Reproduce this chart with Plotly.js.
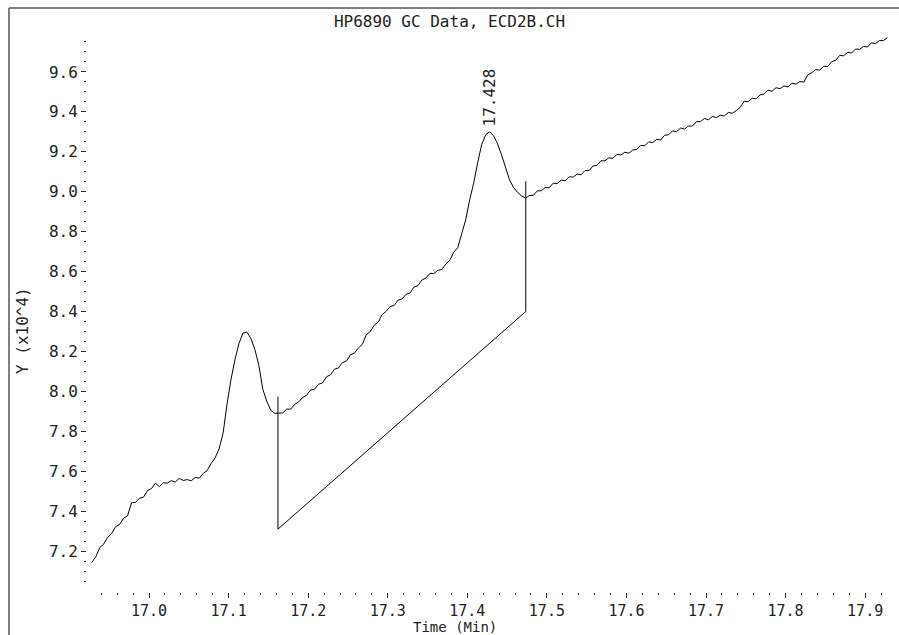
<!DOCTYPE html>
<html>
<head>
<meta charset="utf-8">
<script src="https://cdn.plot.ly/plotly-3.0.1.min.js"></script>
<style>html,body{margin:0;padding:0;background:#fff;}#chart{width:899px;height:635px;}</style>
</head>
<body>
<div id="chart"></div>
<script>
// Chromatogram time axis (min)
const timeMin = [
16.928,16.933,16.938,16.943,16.948,16.953,16.958,16.963,16.968,16.973,
16.978,16.983,16.988,16.993,16.998,17.003,17.008,17.013,17.018,17.023,
17.028,17.033,17.038,17.043,17.048,17.053,17.058,17.063,17.068,17.073,
17.078,17.083,17.088,17.093,17.098,17.103,17.108,17.113,17.118,17.123,
17.128,17.133,17.138,17.143,17.148,17.153,17.158,17.163,17.168,17.173,
17.178,17.183,17.188,17.193,17.198,17.203,17.208,17.213,17.218,17.223,
17.228,17.233,17.238,17.243,17.248,17.253,17.258,17.263,17.268,17.273,
17.278,17.283,17.288,17.293,17.298,17.303,17.308,17.313,17.318,17.323,
17.328,17.333,17.338,17.343,17.348,17.353,17.358,17.363,17.368,17.373,
17.378,17.383,17.388,17.393,17.398,17.403,17.408,17.413,17.418,17.423,
17.428,17.433,17.438,17.443,17.448,17.453,17.458,17.463,17.468,17.473,
17.478,17.483,17.488,17.493,17.498,17.503,17.508,17.513,17.518,17.523,
17.528,17.533,17.538,17.543,17.548,17.553,17.558,17.563,17.568,17.573,
17.578,17.583,17.588,17.593,17.598,17.603,17.608,17.613,17.618,17.623,
17.628,17.633,17.638,17.643,17.648,17.653,17.658,17.663,17.668,17.673,
17.678,17.683,17.688,17.693,17.698,17.703,17.708,17.713,17.718,17.723,
17.728,17.733,17.738,17.743,17.748,17.753,17.758,17.763,17.768,17.773,
17.778,17.783,17.788,17.793,17.798,17.803,17.808,17.813,17.818,17.823,
17.828,17.833,17.838,17.843,17.848,17.853,17.858,17.863,17.868,17.873,
17.878,17.883,17.888,17.893,17.898,17.903,17.908,17.913,17.918,17.923,
17.928];

// Detector signal (x10^4)
const signal = [
7.143,7.171,7.217,7.235,7.269,7.288,7.322,7.334,7.365,7.377,
7.442,7.444,7.465,7.470,7.503,7.513,7.540,7.523,7.542,7.541,
7.553,7.546,7.564,7.554,7.558,7.552,7.569,7.565,7.589,7.603,
7.639,7.667,7.712,7.790,7.935,8.060,8.160,8.240,8.292,8.297,
8.265,8.210,8.130,8.010,7.950,7.905,7.890,7.892,7.892,7.911,
7.911,7.935,7.947,7.969,7.981,8.007,8.011,8.036,8.042,8.073,
8.083,8.111,8.117,8.144,8.151,8.183,8.191,8.217,8.235,8.284,
8.299,8.332,8.346,8.385,8.401,8.425,8.430,8.457,8.463,8.486,
8.493,8.523,8.530,8.558,8.568,8.591,8.590,8.607,8.610,8.638,
8.657,8.697,8.720,8.790,8.860,8.960,9.043,9.145,9.235,9.285,
9.300,9.280,9.240,9.185,9.120,9.060,9.022,8.997,8.980,8.968,
8.981,8.982,9.004,9.005,9.021,9.020,9.043,9.041,9.058,9.055,
9.075,9.073,9.088,9.085,9.106,9.106,9.129,9.132,9.155,9.155,
9.170,9.167,9.187,9.184,9.198,9.193,9.209,9.212,9.232,9.230,
9.250,9.246,9.262,9.259,9.283,9.285,9.305,9.301,9.319,9.314,
9.329,9.329,9.351,9.351,9.367,9.360,9.377,9.371,9.383,9.379,
9.397,9.393,9.406,9.423,9.453,9.451,9.468,9.466,9.485,9.489,
9.509,9.503,9.521,9.516,9.530,9.525,9.543,9.539,9.552,9.549,
9.586,9.596,9.612,9.609,9.628,9.627,9.652,9.658,9.683,9.681,
9.698,9.695,9.715,9.713,9.728,9.725,9.746,9.742,9.757,9.757,
9.772];

// Integration baseline drop-lines
const baselineTime = [17.162, 17.162, 17.4735, 17.4735];
const baselineSignal = [7.974, 7.31, 8.40, 9.052];

// Peak label
const peakTime = 17.428;
const peakSignal = 9.30;
const peakLabel = "17.428";

const titleText = "HP6890 GC Data, ECD2B.CH";
const xTitle = "Time (Min)";
const yTitle = "Y (x10^4)";

const FONT = "DejaVu Sans Mono, Liberation Mono, monospace";
const TXT = "#222";

const traces = [
  {x: timeMin, y: signal, type: "scatter", mode: "lines",
   line: {color: "#000", width: 1}, hoverinfo: "skip", showlegend: false},
  {x: baselineTime, y: baselineSignal, type: "scatter", mode: "lines",
   line: {color: "#000", width: 1}, hoverinfo: "skip", showlegend: false}
];

// plot-area geometry in pixels (used only to place frame/titles in paper units)
const L = 87, R = 10, T = 35, B = 43, W = 899, H = 635;
const PW = W - L - R, PH = H - T - B;
const px2x = p => (p - L) / PW;
const py2y = p => (H - B - p) / PH;

const frameColor = "#555";
const layout = {
  width: W, height: H,
  margin: {l: L, r: R, t: T, b: B, pad: 0},
  paper_bgcolor: "#fff", plot_bgcolor: "#fff",
  showlegend: false,
  font: {family: FONT, size: 16, color: TXT},
  title: {text: titleText, x: 0.5, xref: "container", xanchor: "center",
          y: 1 - 21/635, yref: "container", yanchor: "middle",
          font: {family: FONT, size: 16, color: TXT}},
  xaxis: {
    range: [16.922, 17.930], anchor: "free", position: 0,
    showgrid: false, zeroline: false, showline: false,
    ticks: "outside", ticklen: 5, tickwidth: 1, tickcolor: "#222",
    tick0: 17.0, dtick: 0.1, tickformat: ".1f",
    tickfont: {family: FONT, size: 15, color: TXT},
    minor: {ticks: "outside", ticklen: 2, tickwidth: 1, tickcolor: "#333", dtick: 0.02, tick0: 17.0, showgrid: false}
  },
  yaxis: {
    range: [7.04, 9.785], domain: [0.0161, 1],
    showgrid: false, zeroline: false, showline: false,
    ticks: "outside", ticklen: 5, tickwidth: 1, tickcolor: "#222",
    tick0: 7.2, dtick: 0.2, tickformat: ".1f",
    tickfont: {family: FONT, size: 16, color: TXT},
    minor: {ticks: "outside", ticklen: 2, tickwidth: 1, tickcolor: "#333", dtick: 0.05, tick0: 7.2, showgrid: false}
  },
  annotations: [
    {x: peakTime, y: peakSignal, xref: "x", yref: "y", text: peakLabel,
     textangle: -90, showarrow: false, xanchor: "center", yanchor: "bottom", yshift: 3,
     font: {family: FONT, size: 16, color: TXT}},
    {x: px2x(455), y: py2y(627), xref: "paper", yref: "paper", text: xTitle, showarrow: false,
     xanchor: "center", yanchor: "middle",
     font: {family: FONT, size: 14, color: TXT}},
    {x: px2x(22), y: py2y(331), xref: "paper", yref: "paper", text: yTitle, showarrow: false,
     textangle: -90, xanchor: "center", yanchor: "middle",
     font: {family: FONT, size: 16, color: TXT}}
  ],
  shapes: [
    {type: "line", xref: "paper", yref: "paper",
     x0: px2x(9), x1: px2x(9), y0: py2y(8), y1: py2y(640),
     line: {color: frameColor, width: 1.5}},
    {type: "line", xref: "paper", yref: "paper",
     x0: px2x(9), x1: px2x(905), y0: py2y(8), y1: py2y(8),
     line: {color: frameColor, width: 1.5}}
  ]
};

Plotly.newPlot("chart", traces, layout, {staticPlot: true, displayModeBar: false});
</script>
</body>
</html>
